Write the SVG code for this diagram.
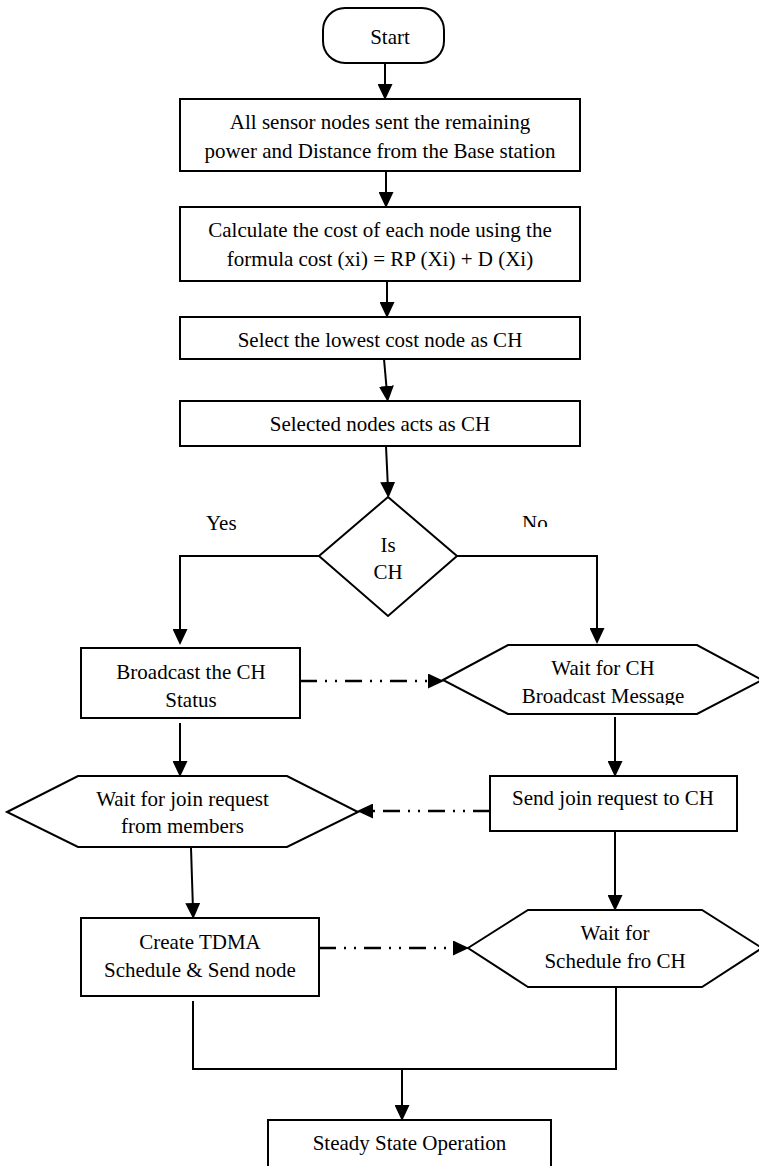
<svg xmlns="http://www.w3.org/2000/svg" width="759" height="1166" viewBox="0 0 759 1166" font-family="'Liberation Serif', 'Times New Roman', Tinos, serif">
<style>
.box{fill:#fff;stroke:#000;stroke-width:2}
.t{font-family:'Liberation Serif','Times New Roman',Tinos,serif;font-size:21px;fill:#000;text-anchor:middle}
.l{text-anchor:start}
.c{fill:none;stroke:#000;stroke-width:2}
.d{stroke-width:2.6;stroke-dasharray:17 8 2 8 2 8}
</style>
<defs>
<marker id="ah" markerUnits="userSpaceOnUse" markerWidth="16" markerHeight="15" refX="7" refY="7.5" orient="auto">
<path d="M0,0 L16,7.5 L0,15 z" fill="#000"/>
</marker>
<clipPath id="clipBM"><rect x="440" y="640" width="330" height="65"/></clipPath>
<clipPath id="clipNo"><rect x="500" y="500" width="80" height="27"/></clipPath>
</defs>
<g id="connectors">
<line class="c" x1="385" y1="63" x2="385" y2="91" marker-end="url(#ah)"/>
<line class="c" x1="386" y1="171" x2="386" y2="199" marker-end="url(#ah)"/>
<line class="c" x1="387" y1="281" x2="387" y2="309" marker-end="url(#ah)"/>
<line class="c" x1="384" y1="359" x2="387" y2="393" marker-end="url(#ah)"/>
<line class="c" x1="386" y1="446" x2="388" y2="489" marker-end="url(#ah)"/>
<polyline class="c" points="319,556 180,556 180,636" marker-end="url(#ah)"/>
<polyline class="c" points="457,556 597,556 597,635" marker-end="url(#ah)"/>
<line class="c d" x1="300" y1="681" x2="435" y2="681" marker-end="url(#ah)"/>
<line class="c" x1="615" y1="717" x2="615" y2="768" marker-end="url(#ah)"/>
<line class="c d" x1="490" y1="811" x2="366" y2="811" marker-end="url(#ah)"/>
<line class="c" x1="180" y1="723" x2="180" y2="768" marker-end="url(#ah)"/>
<line class="c" x1="191" y1="848" x2="193" y2="910" marker-end="url(#ah)"/>
<line class="c" x1="615" y1="831" x2="615" y2="902" marker-end="url(#ah)"/>
<line class="c d" x1="319" y1="948" x2="460" y2="948" marker-end="url(#ah)"/>
<path class="c" d="M193,1001 V1069 H616 V987"/>
<line class="c" x1="402" y1="1069" x2="402" y2="1112" marker-end="url(#ah)"/>
</g>
<g id="start">
<rect class="box" x="323" y="8" width="121" height="55" rx="22" ry="22"/>
<text class="t" x="390" y="44">Start</text>
</g>
<g id="sendPower">
<rect class="box" x="180" y="99" width="400" height="72"/>
<text class="t" x="380" y="129">All sensor nodes sent the remaining</text>
<text class="t" x="380" y="158">power and Distance from the Base station</text>
</g>
<g id="calcCost">
<rect class="box" x="180" y="207" width="400" height="74"/>
<text class="t" x="380" y="237">Calculate the cost of each node using the</text>
<text class="t" x="380" y="266">formula cost (xi) = RP (Xi) + D (Xi)</text>
</g>
<g id="selectLowest">
<rect class="box" x="180" y="317" width="400" height="42"/>
<text class="t" x="380" y="347">Select the lowest cost node as CH</text>
</g>
<g id="actsCH">
<rect class="box" x="180" y="401" width="400" height="45"/>
<text class="t" x="380" y="431">Selected nodes acts as CH</text>
</g>
<g id="isCH">
<polygon class="box" points="388,497 457,556 388,616 319,556"/>
<text class="t" x="388" y="552">Is</text>
<text class="t" x="388" y="579">CH</text>
</g>
<g id="labels">
<text class="t l" x="206" y="530">Yes</text>
<text class="t l" x="522" y="530" clip-path="url(#clipNo)">No</text>
</g>
<g id="broadcastStatus">
<rect class="box" x="81" y="648" width="219" height="70"/>
<text class="t" x="191" y="679">Broadcast the CH</text>
<text class="t" x="191" y="707">Status</text>
</g>
<g id="waitBroadcast">
<polygon class="box" points="443,680 508,645 697,645 762,680 697,714 508,714"/>
<text class="t" x="603" y="675">Wait for CH</text>
<text class="t" x="603" y="703" clip-path="url(#clipBM)">Broadcast Message</text>
</g>
<g id="waitJoin">
<polygon class="box" points="7,812 78,776 287,776 358,812 287,847 78,847"/>
<text class="t" x="182.5" y="806">Wait for join request</text>
<text class="t" x="182.5" y="833">from members</text>
</g>
<g id="sendJoin">
<rect class="box" x="490" y="776" width="247" height="55"/>
<text class="t" x="613" y="805">Send join request to CH</text>
</g>
<g id="createTDMA">
<rect class="box" x="81" y="918" width="238" height="78"/>
<text class="t" x="200" y="949">Create TDMA</text>
<text class="t" x="200" y="977">Schedule &amp; Send node</text>
</g>
<g id="waitSchedule">
<polygon class="box" points="468,948 528,910 702,910 762,948 702,987 528,987"/>
<text class="t" x="615" y="940">Wait for</text>
<text class="t" x="615" y="968">Schedule fro CH</text>
</g>
<g id="steady">
<rect class="box" x="268" y="1120" width="283" height="60"/>
<text class="t" x="409.5" y="1150">Steady State Operation</text>
</g>
</svg>
